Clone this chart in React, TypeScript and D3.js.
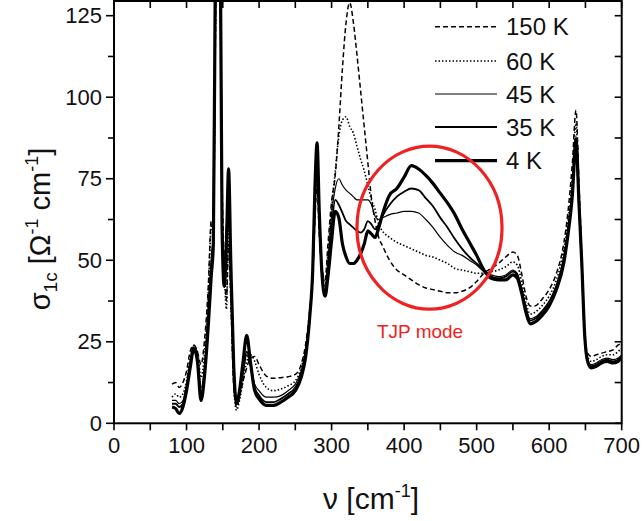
import React from 'react';
import * as d3 from 'd3';

const wavenumbers = [
  80, 85, 90, 95, 100, 105, 110, 115, 120, 125,
  130, 134, 137, 140, 143, 146, 149, 152, 155, 158,
  161, 165, 169, 173, 178, 183, 188, 194, 200, 210,
  220, 230, 240, 250, 258, 264, 270, 274, 277, 280,
  283, 287, 291, 295, 300, 305, 310, 315, 320, 325,
  330, 335, 340, 345, 350, 355, 360, 365, 370, 380,
  390, 400, 410, 420, 430, 440, 450, 460, 470, 480,
  490, 500, 510, 520, 530, 540, 550, 556, 562, 568,
  574, 580, 590, 600, 610, 620, 626, 632, 637, 641,
  645, 649, 653, 658, 665, 672, 680, 688, 695, 700,
];

const sigma150K = [
  12, 12.5, 11, 12.5, 16, 22, 24, 22, 18, 26,
  42, 62, 60, 120, 170, 140, 75, 50, 38, 55,
  38, 12, 5, 8, 13, 17, 20, 20.5, 18, 14.5,
  13.8, 14, 14.3, 15, 18, 24, 35, 46, 62, 73,
  58, 47, 44, 55, 68, 76, 91, 109, 123, 129,
  123, 113, 102, 91, 80, 69, 62, 57, 54.5, 50,
  47, 45.5, 44, 42.5, 41.5, 41, 40.5, 40, 40, 40.5,
  41.5, 43.5, 46, 47.5, 49, 51, 52.5, 51.5, 46, 39,
  36, 36, 38, 41, 46, 55, 65, 80, 96, 74,
  51, 28, 21.5, 20.5, 21, 21.5, 22, 22.5, 24, 24.5,
];

const sigma60K = [
  8, 9, 8, 9, 13, 20, 23, 22, 14, 22,
  40, 60, 62, 125, 180, 150, 70, 48, 35, 60,
  40, 12, 4, 7, 13, 19, 21, 19, 15, 11,
  10, 10.5, 11.5, 13, 17, 23, 34, 46, 64, 76,
  60, 47, 43, 52, 66, 77, 88, 93, 94, 91,
  89, 85, 81, 77.5, 73, 68.5, 65.5, 61, 59, 57,
  55.5, 54.5, 53.5, 52.5, 51.5, 51, 50, 49, 47.5, 47,
  46.5, 46, 46, 46.5, 47, 48, 49.5, 48.5, 43.5, 37,
  33.5, 34, 36, 39, 44, 53, 62, 76, 92, 70,
  49, 27, 20.5, 19, 19.5, 20.5, 21, 21, 22, 23,
];

const sigma45K = [
  7, 7, 6, 7, 12, 19, 24, 21, 11, 18,
  35, 50, 60, 135, 190, 160, 64, 45, 60, 72,
  46, 16, 6, 9, 15, 21, 18, 12, 10, 8,
  8, 8.5, 10, 12, 16, 22, 34, 46, 66, 80,
  62, 46, 42, 50, 64, 72, 75, 73, 71.5, 70.5,
  69.5, 68.5, 68.5, 68.5, 68.5, 67, 63.5, 62.5, 63, 64,
  64.5, 65, 65, 64.5, 62.5, 60, 57, 54.5, 52.5, 51.5,
  50, 48.5, 46.5, 45.5, 45, 45.5, 47, 46, 41.5, 35.5,
  32, 32.5, 34.5, 37.5, 42.5, 51, 60, 73, 88, 68,
  48, 26, 19.5, 18, 18.5, 19.5, 20, 19.5, 20, 21,
];

const sigma35K = [
  6, 6, 5, 6, 11, 18, 22, 20, 9, 16,
  33, 48, 58, 140, 200, 165, 62, 43, 58, 74,
  48, 17, 6, 9, 16, 22, 18, 11, 8.5, 6.5,
  6.5, 7.5, 9, 11, 15, 21, 33, 46, 68, 83,
  63, 45, 40, 47, 60, 68.5, 67, 64.5, 62, 61,
  60, 59, 58.5, 59.5, 62, 61, 59.5, 61, 63.5, 67,
  69.5, 71, 72, 71.5, 69, 66.5, 63, 60, 56.5, 53.5,
  51, 49, 47, 45, 44.5, 45, 46.5, 45.5, 41, 35,
  31.5, 32, 34, 37, 42, 50, 59, 71, 85, 67,
  48, 26, 19, 17.5, 18, 19, 19.5, 19, 19.5, 20.5,
];

const sigma4K = [
  5, 4.5, 3, 5, 10, 17, 23, 19, 7, 15,
  30, 45, 55, 150, 210, 170, 60, 42, 55, 78,
  50, 18, 6, 10, 19, 27, 19, 10, 7.5, 5.5,
  5.5, 6.5, 8, 10, 14, 20, 33, 47, 72, 86,
  65, 45, 39, 45, 56, 65, 63, 55, 51, 49,
  49, 50, 52, 55, 59, 58, 57, 60, 64, 70,
  72, 75.5, 79, 78, 76, 73.5, 70.5, 67.5, 64, 59.5,
  55.5, 51.5, 47, 44.5, 44, 44, 45.5, 44.5, 40, 34,
  30.5, 31, 33, 36, 41, 49, 58, 70, 87, 68,
  49, 27, 19, 17, 17.5, 18.5, 19, 18.5, 19, 20,
];

const seriesLabels = ['150 K', '60 K', '45 K', '35 K', '4 K'];
const seriesValues = [sigma150K, sigma60K, sigma45K, sigma35K, sigma4K];
const xTickValues = [0, 100, 200, 300, 400, 500, 600, 700];
const yTickValues = [0, 25, 50, 75, 100, 125];
const annotationLabel = 'TJP mode';

const lineStyles = [
  { width: 1.5, dash: '5,3' },
  { width: 1.6, dash: '1.5,2' },
  { width: 1.2, dash: null },
  { width: 1.8, dash: null },
  { width: 3.2, dash: null },
];

const FONT = '"Liberation Sans", Arial, Helvetica, sans-serif';

export default function App() {
  const W = 644;
  const H = 521;
  const x = d3.scaleLinear().domain([0, 700]).range([114, 621.7]);
  const y = d3.scaleLinear().domain([0, 125]).range([423.3, 15.7]);
  const top = 1;
  const left = x(0);
  const right = x(700);
  const bottom = y(0);

  const line = d3
    .line<number>()
    .x((_, i) => x(wavenumbers[i]))
    .y((d) => y(d))
    .curve(d3.curveMonotoneX);

  const minorY = d3.range(0, 126, 12.5);
  const minorX = d3.range(0, 701, 50);

  const legendX1 = 435;
  const legendX2 = 497;
  const legendRows = [26.7, 61, 94, 127, 160.7];

  const red = '#ee2222';

  return (
    <svg
      width={W}
      height={H}
      style={{ position: 'absolute', left: 0, top: 0, background: '#fff' }}
      fontFamily={FONT}
    >
      <defs>
        <clipPath id="plotClip">
          <rect x={left} y={top} width={right - left} height={bottom - top} />
        </clipPath>
      </defs>
      <rect x={0} y={0} width={W} height={H} fill="#fff" />

      <g clipPath="url(#plotClip)">
        {seriesValues.map((vals, k) => (
          <path
            key={k}
            d={line(vals) || ''}
            fill="none"
            stroke="#000"
            strokeWidth={lineStyles[k].width}
            strokeDasharray={lineStyles[k].dash || undefined}
            strokeLinejoin="round"
          />
        ))}
      </g>

      {/* frame */}
      <rect x={left} y={top} width={right - left} height={bottom - top} fill="none" stroke="#000" strokeWidth={2} />

      {/* left ticks */}
      {minorY.map((v) => {
        const major = v % 25 === 0;
        return <line key={'ly' + v} x1={left} x2={left - (major ? 8 : 6)} y1={y(v)} y2={y(v)} stroke="#000" strokeWidth={1.6} />;
      })}
      {/* right ticks */}
      {minorY.map((v) => (
        <line key={'ry' + v} x1={right} x2={right - 7} y1={y(v)} y2={y(v)} stroke="#000" strokeWidth={1.6} />
      ))}
      {/* top ticks */}
      {minorX.map((v) => (
        <line key={'tx' + v} x1={x(v)} x2={x(v)} y1={top} y2={top + 7} stroke="#000" strokeWidth={1.6} />
      ))}
      {/* bottom ticks */}
      {minorX.map((v) => (
        <line key={'bx' + v} x1={x(v)} x2={x(v)} y1={bottom} y2={bottom + 7} stroke="#000" strokeWidth={1.6} />
      ))}

      {yTickValues.map((v) => (
        <text key={'yl' + v} x={left - 12} y={y(v)} dy="0.35em" textAnchor="end" fontSize={22} fill="#111">
          {v}
        </text>
      ))}
      {xTickValues.map((v) => (
        <text key={'xl' + v} x={x(v)} y={453} textAnchor="middle" fontSize={22} fill="#111">
          {v}
        </text>
      ))}

      {/* axis titles */}
      <text x={371} y={509} textAnchor="middle" fontSize={30} fill="#111">
        ν [cm<tspan dy={-12} fontSize={18}>-1</tspan>
        <tspan dy={12}>]</tspan>
      </text>
      <text transform="translate(50,229) rotate(-90)" textAnchor="middle" fontSize={29} fill="#111">
        σ<tspan dy={7} fontSize={19}>1c</tspan>
        <tspan dy={-7}> [Ω</tspan>
        <tspan dy={-12} fontSize={18}>-1</tspan>
        <tspan dy={12}> cm</tspan>
        <tspan dy={-12} fontSize={18}>-1</tspan>
        <tspan dy={12}>]</tspan>
      </text>

      {/* legend */}
      {seriesLabels.map((lab, k) => (
        <g key={'lg' + k}>
          <line
            x1={legendX1}
            x2={legendX2}
            y1={legendRows[k]}
            y2={legendRows[k]}
            stroke="#000"
            strokeWidth={lineStyles[k].width}
            strokeDasharray={lineStyles[k].dash || undefined}
          />
          <text x={506} y={legendRows[k]} dy="0.36em" fontSize={24} fill="#111">
            {lab}
          </text>
        </g>
      ))}

      {/* annotation */}
      <ellipse
        cx={x(435)}
        cy={y(60)}
        rx={x(535) - x(435)}
        ry={y(35) - y(60)}
        fill="none"
        stroke={red}
        strokeWidth={3.2}
      />
      <text x={x(422)} y={y(26.2)} textAnchor="middle" fontSize={19} fill={red}>
        {annotationLabel}
      </text>
    </svg>
  );
}
